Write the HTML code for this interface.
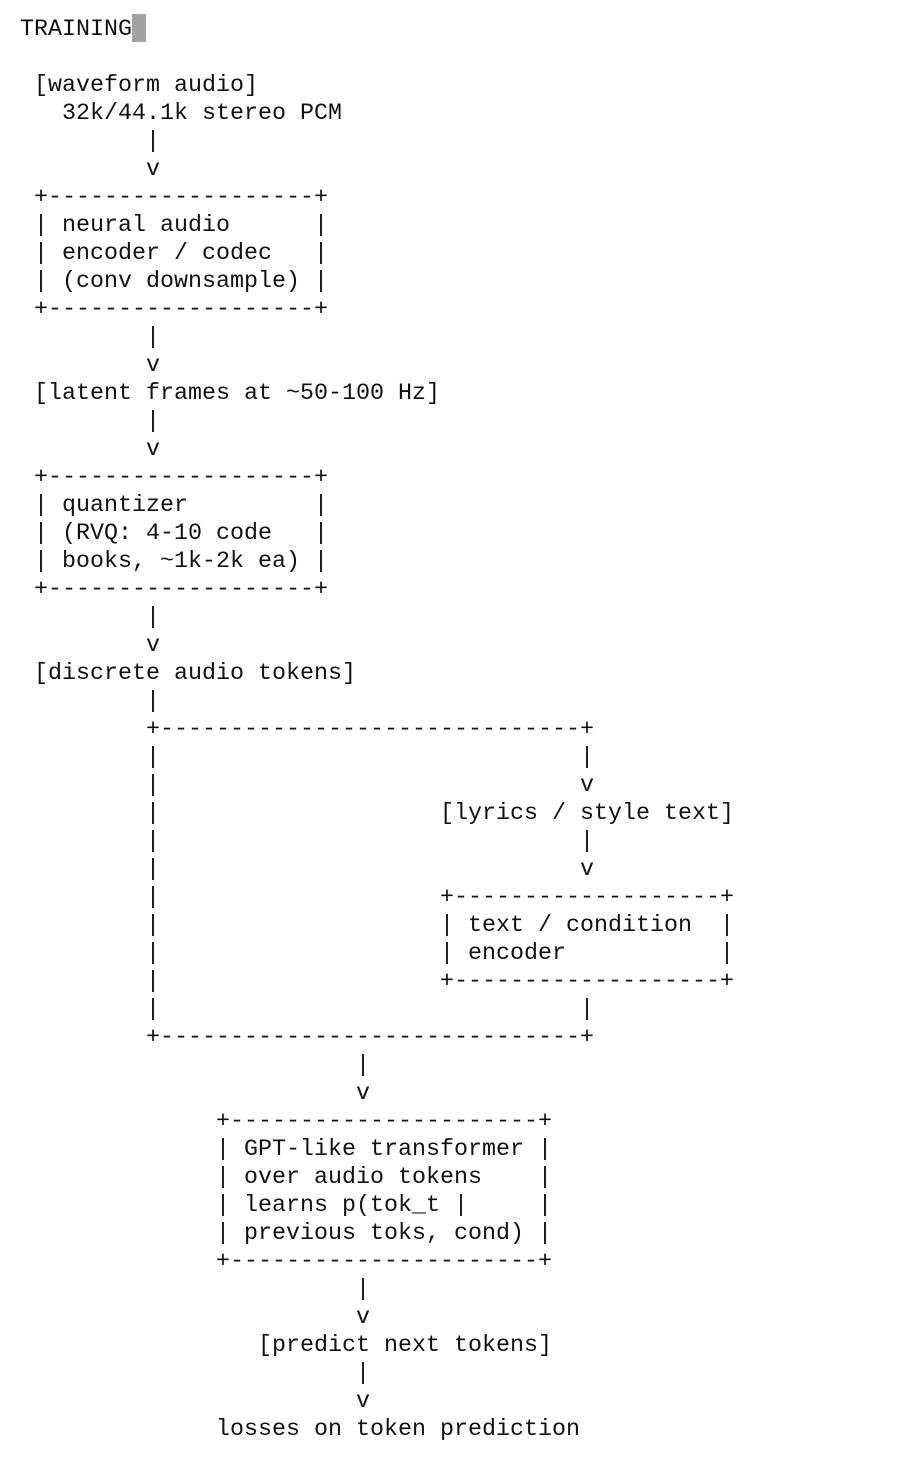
<!DOCTYPE html>
<html>
<head>
<meta charset="utf-8">
<style>
html,body{margin:0;padding:0;background:#fff;}
body{width:918px;height:1478px;overflow:hidden;position:relative;}
pre{position:absolute;left:20px;top:16px;margin:0;font-family:"Liberation Mono","DejaVu Sans Mono",monospace;font-size:23.33px;line-height:28px;color:#111;}
.cur{display:inline-block;width:14px;height:28px;background:#a3a3a3;vertical-align:top;position:relative;top:-2px;}
</style>
</head>
<body>
<pre>TRAINING<span class="cur"></span>

 [waveform audio]
   32k/44.1k stereo PCM
         |
         v
 +-------------------+
 | neural audio      |
 | encoder / codec   |
 | (conv downsample) |
 +-------------------+
         |
         v
 [latent frames at ~50-100 Hz]
         |
         v
 +-------------------+
 | quantizer         |
 | (RVQ: 4-10 code   |
 | books, ~1k-2k ea) |
 +-------------------+
         |
         v
 [discrete audio tokens]
         |
         +------------------------------+
         |                              |
         |                              v
         |                    [lyrics / style text]
         |                              |
         |                              v
         |                    +-------------------+
         |                    | text / condition  |
         |                    | encoder           |
         |                    +-------------------+
         |                              |
         +------------------------------+
                        |
                        v
              +----------------------+
              | GPT-like transformer |
              | over audio tokens    |
              | learns p(tok_t |     |
              | previous toks, cond) |
              +----------------------+
                        |
                        v
                 [predict next tokens]
                        |
                        v
              losses on token prediction</pre>
</body>
</html>
